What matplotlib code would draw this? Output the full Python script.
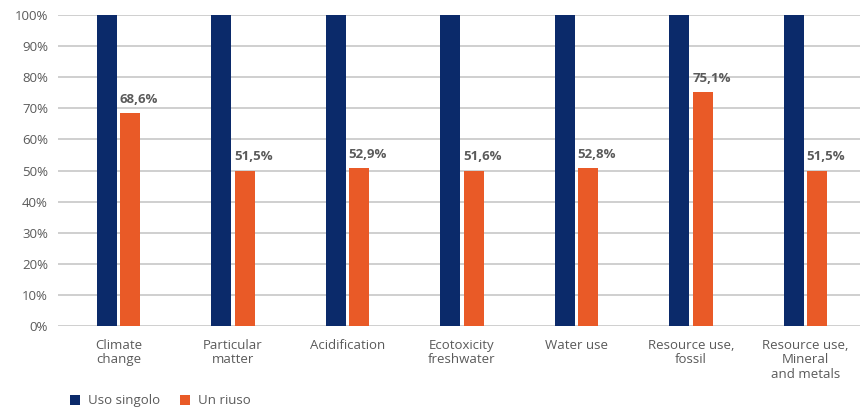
import matplotlib
matplotlib.use("Agg")
import matplotlib.pyplot as plt
import numpy as np

categories = ["Climate\nchange", "Particular\nmatter", "Acidification", "Ecotoxicity\nfreshwater",
              "Water use", "Resource use,\nfossil", "Resource use,\nMineral\nand metals"]
uso_singolo = [100, 100, 100, 100, 100, 100, 100]
un_riuso = [68.6, 50.0, 50.8, 50.0, 50.7, 75.2, 50.0]
riuso_labels = ["68,6%", "51,5%", "52,9%", "51,6%", "52,8%", "75,1%", "51,5%"]
yticks = [0, 10, 20, 30, 40, 50, 60, 70, 80, 90, 100]

navy = "#0b2a6a"
orange = "#e95a27"
grey = "#5a5a5a"

plt.rcParams['font.family'] = ['Open Sans', 'DejaVu Sans']

fig = plt.figure(figsize=(8.62, 4.07), dpi=100)
ax = fig.add_axes([0.067, 0.199, 0.931, 0.764])

x = np.arange(len(categories))
w = 0.175
ax.bar(x - 0.102, uso_singolo, w, color=navy, label="Uso singolo", zorder=3)
ax.bar(x + 0.102, un_riuso, w, color=orange, label="Un riuso", zorder=3)

for xi, v, lab in zip(x, un_riuso, riuso_labels):
    ax.text(xi + 0.012, v + 2.3, lab, ha="left", va="bottom", fontsize=9.5,
            fontweight="bold", color=grey)

ax.set_xlim(-0.53, 6.48)
ax.set_ylim(0, 100)
ax.set_yticks(yticks)
ax.set_yticklabels([f"{t}%" for t in yticks])
ax.set_xticks(x)
ax.set_xticklabels(categories, linespacing=1.15)
ax.grid(axis="y", color="#cfcfcf", linewidth=1.4, zorder=0)
ax.tick_params(length=0, labelsize=9.5, colors=grey, pad=9)
ax.tick_params(axis="y", pad=7)
for s in ax.spines.values():
    s.set_visible(False)

fig.legend(loc="lower left", bbox_to_anchor=(0.068, -0.03), ncol=2, frameon=False,
           fontsize=9.5, labelcolor=grey, handlelength=0.75, handleheight=0.75,
           columnspacing=1.5, handletextpad=0.6)

fig.savefig("out.png", dpi=100)
